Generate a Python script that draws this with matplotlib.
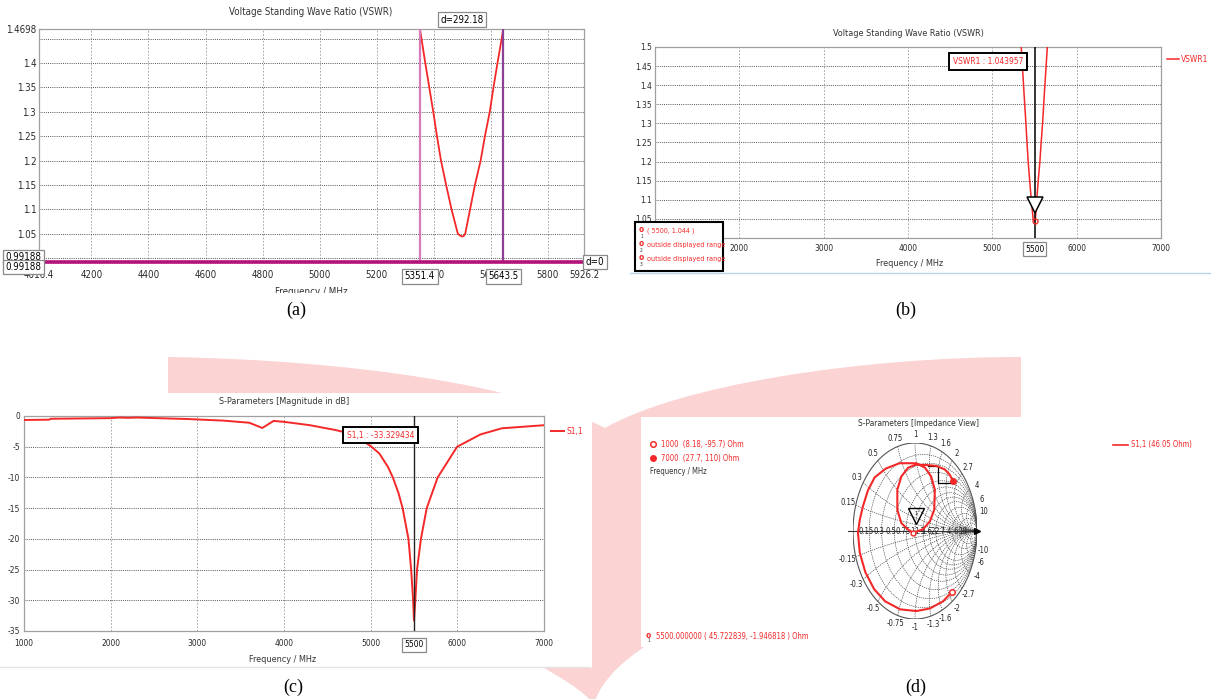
import matplotlib
matplotlib.use('Agg')
import matplotlib.pyplot as plt
import numpy as np
from matplotlib import font_manager
from matplotlib.patches import Rectangle, PathPatch
from matplotlib.path import Path

W, H = 1211, 699

# the screenshots use a narrow UI font: take a narrow/condensed face if one is installed
narrow = [f for f in font_manager.fontManager.ttflist
          if 'Narrow' in f.name or 'Condensed' in f.name or f.stretch in ('condensed', 'semi-condensed')]
if narrow:
    UI_FONT = [narrow[0].name, 'DejaVu Sans']
    plt.rcParams['font.stretch'] = narrow[0].stretch
else:
    UI_FONT = ['Liberation Sans', 'DejaVu Sans']
plt.rcParams['font.family'] = UI_FONT
plt.rcParams['axes.unicode_minus'] = False

RED = '#f42828'
PINK = '#fbd3d3'

# VSWR sweep around the resonance, panels (a) and (b)
vswr_freq = [5300, 5351.4, 5370, 5384, 5398, 5411, 5425, 5443, 5462, 5484, 5492, 5500,
             5506, 5510, 5527, 5544, 5564, 5579, 5596, 5609, 5623, 5643.5, 5700]
vswr_val = [1.64, 1.4698, 1.40, 1.35, 1.30, 1.25, 1.20, 1.15, 1.10, 1.05, 1.046, 1.044,
            1.046, 1.05, 1.10, 1.15, 1.20, 1.25, 1.30, 1.35, 1.40, 1.4698, 1.66]

a_xticks = [4016.4, 4200, 4400, 4600, 4800, 5000, 5200, 5400, 5600, 5800, 5926.2]
a_xlabels = ['4016.4', '4200', '4400', '4600', '4800', '5000', '5200', '5400', '5600', '5800', '5926.2']
a_yticks = [1.0, 1.05, 1.1, 1.15, 1.2, 1.25, 1.3, 1.35, 1.4, 1.45, 1.4698]
a_ylabels = ['', '1.05', '1.1', '1.15', '1.2', '1.25', '1.3', '1.35', '1.4', '', '1.4698']
a_markers = ['5351.4', '5643.5']
a_ref = 0.99188
a_delta = 'd=292.18'

b_xticks = [1000, 2000, 3000, 4000, 5000, 6000, 7000]
b_yticks = [1.0, 1.05, 1.1, 1.15, 1.2, 1.25, 1.3, 1.35, 1.4, 1.45, 1.5]
b_marker = (5500, 1.044)
b_readout = 'VSWR1 : 1.043957'
b_info = ['( 5500, 1.044 )', 'outside displayed range', 'outside displayed range']

# S11 magnitude, panel (c)
s11_freq = [1000, 1290, 1310, 2000, 2100, 2200, 2300, 2900, 3300, 3600, 3750, 3880, 4000,
            4300, 4600, 4800, 5000, 5100, 5200, 5256, 5320, 5369, 5436, 5467, 5490, 5500,
            5515, 5535, 5580, 5647, 5773, 5998, 6267, 6515, 7000]
s11_db = [-0.65, -0.6, -0.45, -0.35, -0.25, -0.3, -0.25, -0.5, -0.75, -1.1, -1.95, -0.8, -0.95,
          -1.5, -2.3, -3.0, -4.9, -6.1, -8.3, -10, -12.5, -15, -20, -25, -30, -33.3,
          -30, -25, -20, -15, -10, -5, -3, -2, -1.5]
c_yticks = [0, -5, -10, -15, -20, -25, -30, -35]
c_xticks = [1000, 2000, 3000, 4000, 5000, 6000, 7000]
c_readout = 'S1,1 : -33.329434'

# Smith chart trace (reflection coefficient), panel (d)
smith_re = [0.60, 0.45, 0.24, 0.02, -0.24, -0.48, -0.66, -0.80, -0.89, -0.92, -0.89, -0.84,
            -0.76, -0.65, -0.47, -0.25, 0.02,
            0.16, 0.26, 0.32, 0.31, 0.24, 0.13, -0.03, -0.11, -0.22, -0.285, -0.285, -0.22,
            -0.11, 0.02, 0.18, 0.34, 0.48, 0.56, 0.61]
smith_im = [-0.69, -0.80, -0.88, -0.91, -0.89, -0.80, -0.66, -0.47, -0.25, -0.02, 0.13, 0.28,
            0.46, 0.61, 0.71, 0.77, 0.77,
            0.72, 0.62, 0.47, 0.24, 0.11, 0.02, -0.02, 0.015, 0.09, 0.24, 0.47, 0.62,
            0.72, 0.755, 0.75, 0.74, 0.70, 0.64, 0.57]
smith_mid = 23
step_re = [0.21, 0.37, 0.37, 0.60]
step_im = [0.74, 0.74, 0.55, 0.55]
smith_grid = [0.15, 0.3, 0.5, 0.75, 1, 1.3, 1.6, 2, 2.7, 4, 6, 10]
d_legend = ['1000  (8.18, -95.7) Ohm', '7000  (27.7, 110) Ohm']
d_marker_text = '5500.000000 ( 45.722839, -1.946818 ) Ohm'
d_series = 'S1,1 (46.05 Ohm)'

BOX_GREY = dict(boxstyle='square,pad=0.25', fc='white', ec='#8a8a8a', lw=0.9)
BOX_BLACK = dict(boxstyle='square,pad=0.45', fc='white', ec='black', lw=1.4)

fig = plt.figure(figsize=(W / 100, H / 100), dpi=100)


def px_axes(left, top, right, bottom, z=2):
    ax = fig.add_axes([left / W, 1 - bottom / H, (right - left) / W, (bottom - top) / H], zorder=z)
    ax.set_facecolor('none')
    return ax


def screen_style(ax, fs, xpad, ypad):
    for sp in ax.spines.values():
        sp.set_color('#a0a0a0')
        sp.set_linewidth(0.9)
    ax.tick_params(length=0, labelsize=fs, labelcolor='#2a2a2a')
    ax.tick_params(axis='x', pad=xpad)
    ax.tick_params(axis='y', pad=ypad)
    ax.set_axisbelow(True)
    ax.grid(axis='y', ls=(0, (1, 1.2)), color='#555555', lw=0.7)
    ax.grid(axis='x', ls=(0, (2, 2)), color='#9a9a9a', lw=0.6)


# background: watermark + white screenshot panels
bg = fig.add_axes([0, 0, 1, 1], zorder=0)
bg.set_xlim(0, W)
bg.set_ylim(H, 0)
bg.axis('off')
C4, L = Path.CURVE4, Path.LINETO
verts = [(168, 357), (350, 360), (520, 385), (605, 428),
         (680, 385), (860, 357), (1021, 357),
         (1021, 440),
         (980, 540), (620, 600), (594, 705),
         (560, 650), (168, 520), (168, 440),
         (168, 357)]
codes = [Path.MOVETO, C4, C4, C4, C4, C4, C4, L, C4, C4, C4, C4, C4, C4, Path.CLOSEPOLY]
bg.add_patch(PathPatch(Path(verts, codes), fc=PINK, ec='none'))
bg.add_patch(Rectangle((0, 393), 592, 275, fc='white', ec='none'))
bg.add_patch(Rectangle((641, 417), 380, 230, fc='white', ec='none'))
bg.plot([0, 590], [667, 667], color='#e4e4e4', lw=1)
bg.plot([630, 1211], [273, 273], color='#b9d3ec', lw=1)

# top layer for free texts
top = fig.add_axes([0, 0, 1, 1], zorder=10)
top.set_xlim(0, W)
top.set_ylim(H, 0)
top.axis('off')
top.patch.set_alpha(0)

# ---------------- (a)
ax_a = px_axes(39, 29, 584, 262)
screen_style(ax_a, 7, 6, 2)
ax_a.plot(vswr_freq, vswr_val, color=RED, lw=1.3, zorder=3)
for m, c in zip(a_markers, ['#d67ab8', '#8e3f98']):
    ax_a.axvline(float(m), color=c, lw=1.6, zorder=4)
ax_a.axhline(a_ref, color='#b3127a', lw=2.6, zorder=4, clip_on=False)
ax_a.set_xlim(a_xticks[0], a_xticks[-1])
ax_a.set_ylim(a_ref, a_yticks[-1])
ax_a.set_xticks(a_xticks, a_xlabels)
ax_a.set_yticks(a_yticks, a_ylabels)
xt = ax_a.get_xaxis_transform()
yt = ax_a.get_yaxis_transform()
for m in a_markers:
    ax_a.text(float(m), -0.062, m, transform=xt, ha='center', va='center', fontsize=7,
              bbox=BOX_GREY, zorder=6, clip_on=False)
ax_a.text(np.mean([float(m) for m in a_markers]), 1.04, a_delta, transform=xt, ha='center',
          va='center', fontsize=7, bbox=BOX_GREY, zorder=6, clip_on=False)
ax_a.text(-0.028, a_ref, '%g' % a_ref, transform=yt, ha='center', va='bottom', fontsize=7,
          bbox=BOX_GREY, zorder=6, clip_on=False)
ax_a.text(-0.028, a_ref, '%g' % a_ref, transform=yt, ha='center', va='top', fontsize=7,
          bbox=BOX_GREY, zorder=6, clip_on=False)
ax_a.text(1.02, a_ref, 'd=0', transform=yt, ha='center', va='center', fontsize=7,
          bbox=BOX_GREY, zorder=6, clip_on=False)
top.text(311, 12, 'Voltage Standing Wave Ratio (VSWR)', ha='center', va='center', fontsize=7, color='#333333')
top.text(311, 292, 'Frequency / MHz', ha='center', va='center', fontsize=7, color='#333333', zorder=1)
top.add_patch(Rectangle((250, 293), 130, 10, fc='white', ec='none', zorder=2))

# ---------------- (b)
ax_b = px_axes(655, 47, 1161, 238)
screen_style(ax_b, 6, 4.5, 2)
ax_b.plot(vswr_freq, vswr_val, color=RED, lw=1.1, label='VSWR1', zorder=3)
ax_b.axvline(b_marker[0], color='black', lw=1.1, zorder=4)
ax_b.plot(b_marker[0], 1.087, marker='v', ms=12, mfc='white', mec='black', mew=1.1, zorder=5)
ax_b.plot(*b_marker, 'o', ms=3.5, mfc='none', mec=RED, zorder=6)
ax_b.set_xlim(b_xticks[0], b_xticks[-1])
ax_b.set_ylim(b_yticks[0], b_yticks[-1])
ax_b.set_xticks(b_xticks, [str(v) for v in b_xticks])
ax_b.set_yticks(b_yticks, ['%g' % v for v in b_yticks])
ax_b.text(4952, 1.462, b_readout, color=RED, fontsize=6, ha='center', va='center',
          bbox=BOX_BLACK, zorder=7)
ax_b.text(b_marker[0], -0.058, str(b_marker[0]), transform=ax_b.get_xaxis_transform(),
          ha='center', va='center', fontsize=6, bbox=BOX_GREY, zorder=7, clip_on=False)
ax_b.legend(loc='upper left', bbox_to_anchor=(1.0, 0.99), frameon=False, fontsize=6,
            handlelength=1.4, labelcolor='linecolor', borderaxespad=0.3, handletextpad=0.3)
top.text(908, 34, 'Voltage Standing Wave Ratio (VSWR)', ha='center', va='center', fontsize=6.5, color='#333333')
top.text(910, 263, 'Frequency / MHz', ha='center', va='center', fontsize=6.5, color='#333333')
top.add_patch(Rectangle((635, 222), 88, 49, fc='white', ec='black', lw=1.5))
for i, s in enumerate(b_info):
    y = 231 + 14 * i
    top.text(647, y, s, color=RED, fontsize=5.1, va='center')
    top.text(641, y - 1, 'o', color=RED, fontsize=6, ha='center', va='center', fontweight='bold')
    top.text(641.5, y + 5, str(i + 1), color='#333333', fontsize=3.5, ha='center', va='center')

# ---------------- (c)
ax_c = px_axes(24, 416, 544, 631)
screen_style(ax_c, 6, 6, 3)
ax_c.plot(s11_freq, s11_db, color=RED, lw=1.4, label='S1,1', zorder=3)
ax_c.axvline(5500, color='#222222', lw=1.0, zorder=4)
ax_c.set_xlim(c_xticks[0], c_xticks[-1])
ax_c.set_ylim(c_yticks[-1], c_yticks[0])
ax_c.set_xticks(c_xticks, [str(v) for v in c_xticks])
ax_c.set_yticks(c_yticks, [str(v) for v in c_yticks])
ax_c.text(5112, -3.1, c_readout, color=RED, fontsize=6, ha='center', va='center',
          bbox=BOX_BLACK, zorder=7)
ax_c.text(5500, -0.065, '5500', transform=ax_c.get_xaxis_transform(), ha='center', va='center',
          fontsize=6, bbox=BOX_GREY, zorder=7, clip_on=False)
ax_c.legend(loc='upper left', bbox_to_anchor=(1.0, 0.98), frameon=False, fontsize=6,
            handlelength=1.6, labelcolor='linecolor', borderaxespad=0.4, handletextpad=0.3)
top.text(284, 402, 'S-Parameters [Magnitude in dB]', ha='center', va='center', fontsize=6.5, color='#333333')
top.text(283, 660, 'Frequency / MHz', ha='center', va='center', fontsize=6.5, color='#333333')

# ---------------- (d) Smith chart
ax_d = px_axes(853, 443, 977, 619)
ax_d.set_xlim(-1, 1)
ax_d.set_ylim(-1, 1)
ax_d.axis('off')
grid_kw = dict(color='#3a3a3a', lw=0.45, ls=(0, (2, 1.5)))
tt = np.linspace(-np.pi / 2 + 1e-3, np.pi / 2 - 1e-3, 500)
rr = np.concatenate([[0], np.logspace(-3, 3, 400)])
for r in smith_grid:
    z = r + 1j * np.tan(tt)
    g = (z - 1) / (z + 1)
    ax_d.plot(g.real, g.imag, **grid_kw)
for x in smith_grid:
    for sx in (1, -1):
        z = rr + 1j * sx * x
        g = (z - 1) / (z + 1)
        ax_d.plot(g.real, g.imag, **grid_kw)
        gr = (1j * sx * x - 1) / (1j * sx * x + 1)
        ang = np.angle(gr)
        ax_d.text(1.13 * np.cos(ang), 1.1 * np.sin(ang), ('%g' % (sx * x)), fontsize=5.5,
                  ha='center', va='center', color='#222222', clip_on=False)
th = np.linspace(0, 2 * np.pi, 400)
ax_d.plot(np.cos(th), np.sin(th), color='#555555', lw=0.8)
ax_d.plot([-1.08, 1], [0, 0], color='#333333', lw=0.8, clip_on=False)
ax_d.plot(1.0, 0, marker='>', ms=4, color='black', clip_on=False)
for r in smith_grid:
    ax_d.text((r - 1) / (r + 1) - 0.05, 0, '%g' % r, fontsize=5.5, ha='center', va='center', color='#222222')
ax_d.plot(step_re, step_im, color='black', lw=0.9)
ax_d.plot(smith_re, smith_im, color=RED, lw=1.5, zorder=4)
ax_d.plot(smith_re[0], smith_im[0], 'o', ms=4, mfc='white', mec=RED, mew=1.1, zorder=5)
ax_d.plot(smith_re[-1], smith_im[-1], 'o', ms=4, color=RED, zorder=5)
ax_d.plot(smith_re[smith_mid], smith_im[smith_mid], 'o', ms=3.5, mfc='white', mec=RED, mew=1, zorder=5)
ax_d.plot(0.01, 0.17, marker='v', ms=11, mfc='none', mec='black', mew=1, zorder=6)
ax_d.text(0.01, 0.2, '1', fontsize=4, ha='center', va='center', zorder=6)
top.text(918, 424, 'S-Parameters [Impedance View]', ha='center', va='center', fontsize=6, color='#333333')
top.plot(653, 444, 'o', ms=4, mfc='white', mec=RED, mew=1.1)
top.plot(653, 458, 'o', ms=4, color=RED)
top.text(661, 444, d_legend[0], color=RED, fontsize=5.5, va='center')
top.text(661, 458, d_legend[1], color=RED, fontsize=5.5, va='center')
top.text(650, 472, 'Frequency / MHz', color='#333333', fontsize=5.5, va='center')
top.plot([1113, 1128], [445, 445], color=RED, lw=1.2)
top.text(1131, 445, d_series, color=RED, fontsize=5.5, va='center')
top.text(648, 635, 'o', color=RED, fontsize=6, ha='center', va='center', fontweight='bold')
top.text(649, 641, '1', color='#333333', fontsize=3.5, ha='center', va='center')
top.text(656, 637, d_marker_text, color=RED, fontsize=5.5, va='center')

# captions
for s, x, y in [('(a)', 296, 310), ('(b)', 906, 310), ('(c)', 293, 687), ('(d)', 916, 687)]:
    top.text(x, y, s, ha='center', va='center', fontsize=13, family='Liberation Serif')

fig.savefig('out.png', dpi=100)
